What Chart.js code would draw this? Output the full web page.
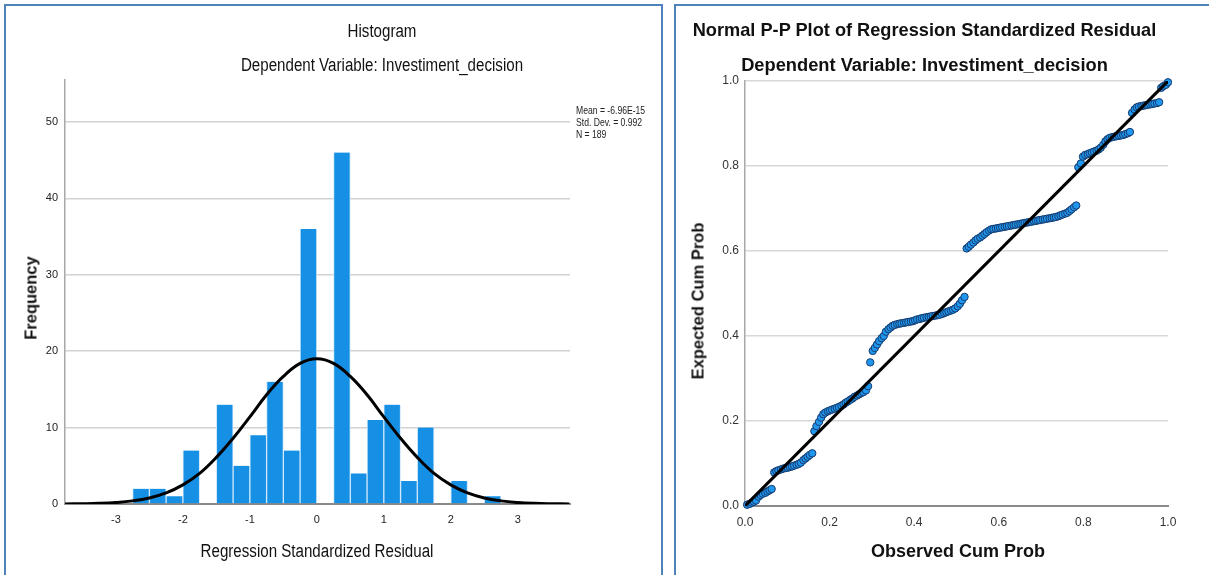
<!DOCTYPE html>
<html>
<head>
<meta charset="utf-8">
<script src="https://cdn.jsdelivr.net/npm/chart.js@4.4.0/dist/chart.umd.min.js"></script>
<style>
  html, body { margin:0; padding:0; background:#fff; }
  #root { position:relative; width:1209px; height:575px; overflow:hidden; background:#fff; }
  .panel { position:absolute; border:2px solid #4f81bd; box-sizing:border-box; }
  canvas { position:absolute; top:0; }
  .t { position:absolute; transform:translate(-50%,-50%); white-space:nowrap; color:#111;
       font-family:"Liberation Sans",Arial,sans-serif; }
  .narrow { transform:translate(-50%,-50%) scaleX(0.84); }
  .rot { transform:translate(-50%,-50%) rotate(-90deg); }
  .leg { position:absolute; left:576px; font-size:10.5px; line-height:12px; color:#222; white-space:nowrap;
         font-family:"Liberation Sans",Arial,sans-serif; transform-origin:0 50%; transform:scaleX(0.82); }
</style>
</head>
<body>
<div id="root">
  <div class="panel" style="left:4px; top:4px; width:659px; height:620px;"></div>
  <div class="panel" style="left:674px; top:4px; width:600px; height:620px;"></div>
  <canvas id="hist" width="665" height="575" style="left:0;"></canvas>
  <canvas id="pp" width="544" height="575" style="left:665px;"></canvas>

  <div class="t narrow" style="left:382px; top:31px; font-size:18px;">Histogram</div>
  <div class="t narrow" style="left:382px; top:65px; font-size:18px;">Dependent Variable: Investiment_decision</div>
  <div class="t rot" style="left:31px; top:298px; font-size:16.5px; font-weight:bold;">Frequency</div>
  <div class="t narrow" style="left:317px; top:551px; font-size:18px;">Regression Standardized Residual</div>
  <div class="leg" style="top:104px;">Mean = -6.96E-15</div>
  <div class="leg" style="top:116px;">Std. Dev. = 0.992</div>
  <div class="leg" style="top:128px;">N = 189</div>

  <div class="t" style="left:924.5px; top:30px; font-size:18.2px; font-weight:bold;">Normal P-P Plot of Regression Standardized Residual</div>
  <div class="t" style="left:924.5px; top:65px; font-size:18.3px; font-weight:bold;">Dependent Variable: Investiment_decision</div>
  <div class="t rot" style="left:698px; top:301px; font-size:16.5px; font-weight:bold;">Expected Cum Prob</div>
  <div class="t" style="left:958px; top:551px; font-size:18px; font-weight:bold;">Observed Cum Prob</div>
</div>
<script>
// ---------- Histogram data ----------
const binCenters = [-2.625,-2.375,-2.125,-1.875,-1.625,-1.375,-1.125,-0.875,-0.625,-0.375,-0.125,
                    0.125,0.375,0.625,0.875,1.125,1.375,1.625,1.875,2.125,2.375,2.625];
const binCounts  = [2,2,1,7,0,13,5,9,16,7,36,0,46,4,11,13,3,10,0,3,0,1];
const histYTicks = [0,10,20,30,40,50];
const histXTicks = [-3,-2,-1,0,1,2,3];
// normal curve
const curveX = [-3.77,-3.5,-3.25,-3,-2.75,-2.5,-2.25,-2,-1.75,-1.5,-1.25,-1,-0.75,-0.5,-0.25,0,
                0.25,0.5,0.75,1,1.25,1.5,1.75,2,2.25,2.5,2.75,3,3.25,3.5,3.77];
const curveY = [0.01,0.04,0.09,0.2,0.41,0.79,1.45,2.5,4.0,6.1,8.6,11.4,14.3,16.7,18.4,19.0,
                18.4,16.7,14.3,11.4,8.6,6.1,4.0,2.5,1.45,0.79,0.41,0.2,0.09,0.04,0.01];

// ---------- P-P plot data ----------
const ppObserved = [
 0.005,0.011,0.016,0.021,0.026,
 0.032,0.037,0.042,0.048,0.053,0.058,0.063,
 0.069,0.074,0.079,0.085,0.090,0.095,0.101,0.106,0.111,0.116,0.122,0.127,0.132,
 0.138,0.143,0.148,0.153,0.159,
 0.164,0.169,0.175,0.180,0.185,0.190,0.196,0.201,0.206,
 0.212,0.217,0.222,0.228,0.233,0.238,0.243,0.249,0.254,0.259,0.265,0.270,0.275,0.280,0.286,0.291,
 0.296,0.302,0.307,0.312,0.317,0.323,0.328,
 0.333,0.339,0.344,0.349,0.354,0.360,0.365,0.370,0.376,0.381,0.386,0.392,0.397,0.402,0.407,0.413,0.418,0.423,
 0.429,0.434,0.439,0.444,0.450,0.455,0.460,0.466,0.471,0.476,0.481,0.487,0.492,0.497,0.503,0.508,0.513,0.519,
 0.524,0.529,0.534,0.540,0.545,0.550,0.556,0.561,0.566,0.571,0.577,0.582,0.587,0.593,0.598,0.603,0.608,0.614,
 0.619,0.624,0.630,0.635,0.640,0.646,0.651,0.656,0.661,0.667,0.672,0.677,0.683,0.688,0.693,0.698,0.704,0.709,
 0.714,0.720,0.725,0.730,0.735,0.741,0.746,0.751,0.757,0.762,
 0.767,0.772,0.778,0.783,
 0.788,0.794,0.799,0.804,0.810,0.815,0.820,0.825,0.831,0.836,0.841,
 0.847,0.852,0.857,0.862,0.868,0.873,0.878,0.884,0.889,0.894,0.899,0.905,0.910,
 0.915,0.921,0.926,
 0.931,0.937,0.942,0.947,0.952,0.958,0.963,0.968,0.974,0.979,
 0.984,0.989,0.995,
 1.000
];
const ppExpected = [
 0.003,0.005,0.008,0.010,0.013,
 0.022,0.026,0.029,0.031,0.034,0.037,0.040,
 0.079,0.082,0.084,0.086,0.088,0.089,0.090,0.092,0.093,0.095,0.097,0.099,0.102,
 0.108,0.112,0.116,0.120,0.124,
 0.176,0.188,0.198,0.208,0.216,0.220,0.223,0.225,0.227,
 0.229,0.231,0.233,0.236,0.239,0.243,0.246,0.250,0.253,0.257,0.260,0.263,0.266,0.268,0.272,0.282,
 0.338,0.365,0.372,0.380,0.388,0.395,0.400,
 0.410,0.416,0.420,0.424,0.426,0.428,0.429,0.430,0.431,0.432,0.433,0.434,0.435,0.437,0.439,0.440,0.442,0.443,
 0.444,0.445,0.446,0.447,0.448,0.449,0.450,0.452,0.454,0.456,0.458,0.460,0.462,0.465,0.470,0.476,0.484,0.492,
 0.606,0.610,0.615,0.620,0.625,0.629,0.632,0.636,0.640,0.644,0.648,0.651,0.652,0.653,0.654,0.655,0.656,0.657,
 0.658,0.659,0.660,0.661,0.662,0.663,0.664,0.665,0.666,0.667,0.668,0.669,0.670,0.671,0.672,0.673,0.674,0.675,
 0.676,0.677,0.678,0.679,0.680,0.682,0.684,0.686,0.688,0.690,
 0.694,0.698,0.703,0.707,
 0.797,0.806,0.822,0.826,0.828,0.830,0.832,0.834,0.836,0.839,0.843,
 0.850,0.858,0.863,0.866,0.868,0.869,0.870,0.871,0.872,0.873,0.875,0.877,0.880,
 0.925,0.933,0.938,
 0.940,0.941,0.942,0.943,0.944,0.945,0.946,0.947,0.948,0.950,
 0.984,0.988,0.991,
 0.997
];
const refLine = [[0,0],[1,1]];
const ppTicks = [0,0.2,0.4,0.6,0.8,1.0];

const sansFont = '"Liberation Sans",Arial,sans-serif';

// ---------- Histogram ----------
new Chart(document.getElementById('hist'), {
  type: 'bar',
  data: {
    datasets: [
      { type:'line', data: curveX.map((x,i)=>({x:x, y:curveY[i]})), borderColor:'#000', borderWidth:3,
        pointRadius:0, tension:0.4, fill:false, order:0 },
      { type:'bar', data: binCenters.map((x,i)=>({x:x, y:binCounts[i]})), backgroundColor:'#1590e5',
        borderColor:'#cfe7fa', borderWidth:{left:1,right:1,top:0,bottom:0}, borderSkipped:false,
        barPercentage:1, categoryPercentage:1, order:1 }
    ]
  },
  options: {
    responsive:false, animation:false, devicePixelRatio:1,
    layout:{ padding:{ left:15, right:95, top:80, bottom:41 } },
    plugins:{ legend:{display:false}, tooltip:{enabled:false}, title:{display:false} },
    scales:{
      x:{ type:'linear', min:-3.76, max:3.78, offset:false,
          grid:{ display:false, drawTicks:false },
          border:{ display:true, color:'#8a8a8a', width:2 },
          ticks:{ stepSize:1, includeBounds:false, autoSkip:false, padding:9, color:'#222',
                  font:{ family:sansFont, size:11 },
                  callback:(v)=> histXTicks.includes(Math.round(v*100)/100) ? String(v) : '' },
          afterFit:(s)=>{ s.height = 30; } },
      y:{ min:0, max:55.5,
          grid:{ color:'#d2d2d2', lineWidth:1.5, drawTicks:false },
          border:{ display:true, color:'#a8a8a8', width:1.5 },
          ticks:{ stepSize:10, includeBounds:false, padding:7, color:'#222',
                  font:{ family:sansFont, size:11 },
                  callback:(v)=> histYTicks.includes(v) ? String(v) : '' },
          afterFit:(s)=>{ s.width = 50; } }
    }
  }
});

// ---------- P-P plot ----------
new Chart(document.getElementById('pp'), {
  type: 'scatter',
  data: {
    datasets: [
      { type:'line', data: refLine.map(p=>({x:p[0], y:p[1]})), borderColor:'#000', borderWidth:3,
        pointRadius:0, fill:false, order:0 },
      { type:'scatter', data: ppObserved.map((x,i)=>({x:x, y:ppExpected[i]})),
        pointRadius:3.7, backgroundColor:'#1f97ee', borderColor:'#163a6e', borderWidth:1, order:1, clip:4 }
    ]
  },
  options: {
    responsive:false, animation:false, devicePixelRatio:1,
    layout:{ padding:{ left:30, right:41, top:81, bottom:39 } },
    plugins:{ legend:{display:false}, tooltip:{enabled:false} },
    scales:{
      x:{ type:'linear', min:0, max:1,
          grid:{ display:false, drawTicks:false },
          border:{ display:true, color:'#8a8a8a', width:2 },
          ticks:{ stepSize:0.2, padding:9, color:'#333', font:{ family:sansFont, size:12 },
                  callback:(v)=> v.toFixed(1) },
          afterFit:(s)=>{ s.height = 30; } },
      y:{ type:'linear', min:0, max:1,
          grid:{ color:'#d8d8d8', lineWidth:1.5, drawTicks:false },
          border:{ display:true, color:'#a8a8a8', width:1.5 },
          ticks:{ stepSize:0.2, padding:6, color:'#333', font:{ family:sansFont, size:12 },
                  callback:(v)=> v.toFixed(1) },
          afterFit:(s)=>{ s.width = 50; } }
    }
  }
});
</script>
</body>
</html>
